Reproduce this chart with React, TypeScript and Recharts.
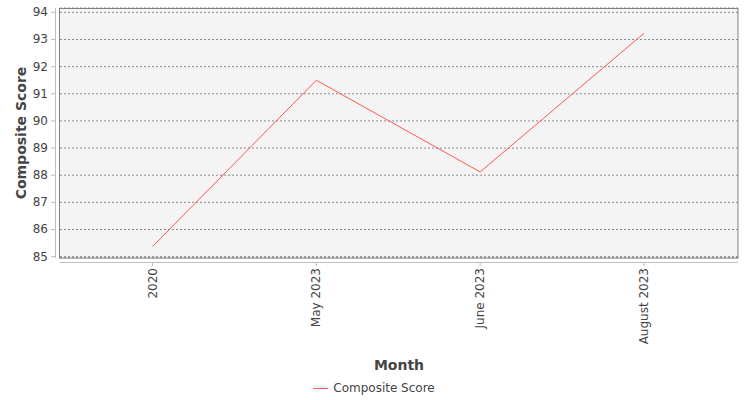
import React from 'react';
import { CartesianGrid, Legend, Line, LineChart, XAxis, YAxis } from 'recharts';

const months = ['2020', 'May 2023', 'June 2023', 'August 2023'];
const scores = [85.37, 91.5, 88.12, 93.23];
const yTicks = [85, 86, 87, 88, 89, 90, 91, 92, 93, 94];

const data = months.map((month, i) => ({ month, score: scores[i] }));

const FONT = '"DejaVu Sans", sans-serif';
const TEXT = '#444444';

const XTick = (props: any) => {
  const { x, y, payload } = props;
  return (
    <g>
      <line x1={x} x2={x} y1={y - 4} y2={y} stroke="#bdbdbd" />
      <text
        transform={`translate(${x},${y + 2}) rotate(-90)`}
        textAnchor="end"
        dominantBaseline="central"
        fontSize={12}
        fontFamily={FONT}
        fill={TEXT}
      >
        {payload.value}
      </text>
    </g>
  );
};

const YTick = (props: any) => {
  const { x, y, payload } = props;
  return (
    <g>
      <line x1={x - 1} x2={x + 3} y1={y} y2={y} stroke="#bdbdbd" />
      <text
        x={x - 4}
        y={y}
        textAnchor="end"
        dominantBaseline="central"
        fontSize={12}
        fontFamily={FONT}
        fill={TEXT}
      >
        {payload.value}
      </text>
    </g>
  );
};

const LegendBox = () => (
  <div style={{ display: 'flex', justifyContent: 'center', alignItems: 'center', height: 20, paddingLeft: 10, fontFamily: FONT, fontSize: 12, color: TEXT }}>
    <span style={{ display: 'inline-block', width: 15, height: 1, background: '#ff5555', marginRight: 5 }} />
    <span>Composite Score</span>
  </div>
);

const App = () => {
  return (
    <div style={{ position: 'absolute', left: 0, top: 0, width: 750, height: 400, background: '#fff' }}>
      <LineChart width={750} height={400} data={data} margin={{ top: 8, right: 12, left: 0, bottom: 2 }}>
        <CartesianGrid vertical={false} stroke="#8a8a8a" strokeDasharray="2 2" fill="#f4f4f4" />
        <XAxis
          dataKey="month"
          scale="point"
          padding={{ left: 92.5, right: 94 }}
          height={120}
          axisLine={false}
          tickLine={false}
          tick={<XTick />}
          interval={0}
          label={{ value: 'Month', position: 'insideBottom', offset: 8, fontSize: 14, fontWeight: 'bold', fontFamily: FONT, fill: TEXT }}
        />
        <YAxis
          width={60}
          domain={[84.95, 94.16]}
          ticks={yTicks}
          axisLine={false}
          tickLine={false}
          tick={<YTick />}
          interval={0}
          label={{
            content: (p: any) => {
              const vb = p.viewBox || { x: 0, y: 8, width: 60, height: 250 };
              const cx = vb.x + 21;
              const cy = vb.y + vb.height / 2;
              return (
                <text
                  transform={`translate(${cx},${cy}) rotate(-90)`}
                  textAnchor="middle"
                  dominantBaseline="central"
                  fontSize={14}
                  fontWeight="bold"
                  fontFamily={FONT}
                  fill={TEXT}
                >
                  Composite Score
                </text>
              );
            },
          }}
        />
        <Legend verticalAlign="bottom" height={20} content={<LegendBox />} />
        <Line
          type="linear"
          dataKey="score"
          name="Composite Score"
          stroke="#ff5555"
          strokeWidth={1}
          dot={false}
          activeDot={false}
          isAnimationActive={false}
        />
      </LineChart>
      <svg width={750} height={400} style={{ position: 'absolute', left: 0, top: 0, pointerEvents: 'none' }}>
        <rect x={59.5} y={8.5} width={678.5} height={249.5} fill="none" stroke="#808080" />
        <line x1={55.5} x2={55.5} y1={8} y2={258} stroke="#bdbdbd" />
        <line x1={60} x2={738} y1={262.5} y2={262.5} stroke="#bdbdbd" />
      </svg>
    </div>
  );
};

export default App;
